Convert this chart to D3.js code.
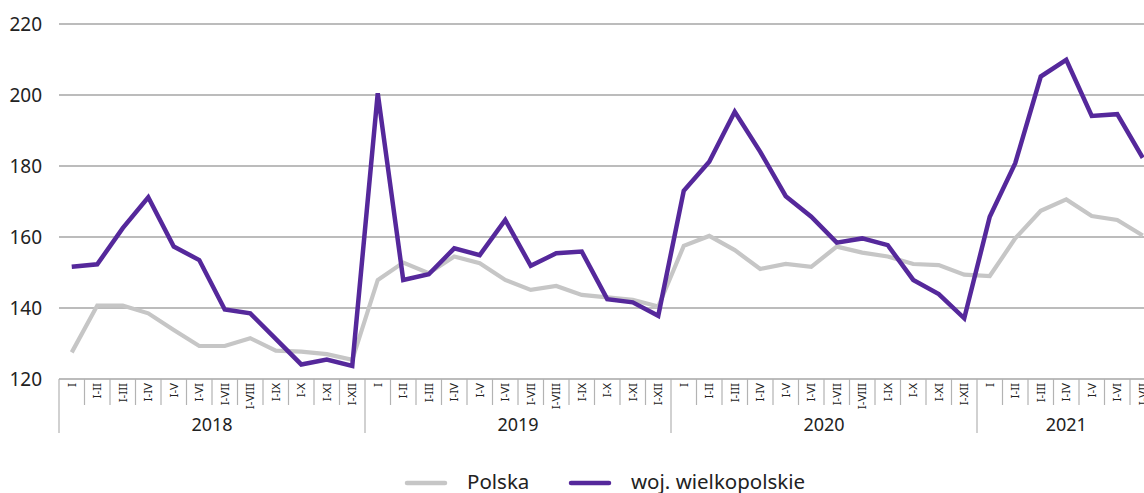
<!DOCTYPE html>
<html lang="pl">
<head>
    <meta charset="UTF-8">
    <title>Polska i woj. wielkopolskie</title>
    <script src="https://d3js.org/d3.v7.min.js"></script>
    <style>
        html, body {
            margin: 0;
            padding: 0;
            background: #fff;
            overflow: hidden;
        }
        body {
            font-family: "Noto Sans", "Open Sans", sans-serif;
            color: #222;
        }
        svg { display: block; overflow: hidden; }
    </style>
</head>
<body>
    <div id="chart"></div>

    <script>
        // dane
        const years = ['2018', '2019', '2020', '2021'];
        const monthsPerYear = [12, 12, 12, 7];
        const monthLabels = ['I', 'I-II', 'I-III', 'I-IV', 'I-V', 'I-VI', 'I-VII', 'I-VIII', 'I-IX', 'I-X', 'I-XI', 'I-XII'];
        const yTicks = [120, 140, 160, 180, 200, 220];

        const polska = [
            127.5, 140.7, 140.7, 138.5, 133.8, 129.3, 129.3, 131.5, 128.0, 127.7, 127.0, 125.4,
            147.9, 152.8, 149.8, 154.5, 152.6, 147.9, 145.1, 146.2, 143.7, 143.0, 142.3, 140.4,
            157.5, 160.3, 156.3, 151.0, 152.4, 151.6, 157.3, 155.6, 154.5, 152.4, 152.1, 149.4,
            149.0, 159.6, 167.4, 170.6, 165.9, 164.8, 160.4
        ];
        const wielkopolskie = [
            151.6, 152.3, 162.5, 171.2, 157.3, 153.5, 139.6, 138.5, 131.3, 124.1, 125.5, 123.7,
            200.5, 147.9, 149.5, 156.8, 154.9, 164.8, 151.9, 155.4, 155.9, 142.5, 141.6, 137.8,
            173.0, 181.2, 195.3, 184.0, 171.5, 165.7, 158.4, 159.6, 157.7, 147.9, 143.9, 137.1,
            165.7, 180.8, 205.2, 209.9, 194.1, 194.6, 182.3
        ];

        const seriesNames = ['Polska', 'woj. wielkopolskie'];
        const seriesColors = ['#c6c6c6', '#55289b'];

        // kategorie osi X
        const categories = [];
        years.forEach((y, yi) => {
            for (let m = 0; m < monthsPerYear[yi]; m++) {
                categories.push({ key: y + '-' + m, year: y, label: monthLabels[m] });
            }
        });

        const W = 1144, H = 493;
        const margin = { top: 24, left: 59, bottom: 114 };
        const bandW = 25.5;
        const plotW = bandW * categories.length;
        const plotH = H - margin.top - margin.bottom;

        const svg = d3.select('#chart').append('svg')
            .attr('width', W)
            .attr('height', H);

        const g = svg.append('g')
            .attr('transform', `translate(${margin.left},${margin.top})`);

        const x = d3.scaleBand()
            .domain(categories.map(d => d.key))
            .range([0, plotW]);

        const y = d3.scaleLinear()
            .domain([120, 220])
            .range([plotH, 0]);

        // siatka
        g.append('g')
            .selectAll('line')
            .data(yTicks)
            .join('line')
            .attr('x1', 0)
            .attr('x2', W)
            .attr('y1', d => y(d))
            .attr('y2', d => y(d))
            .attr('stroke', '#a6a6a6')
            .attr('stroke-width', 1.3);

        // etykiety osi Y
        g.append('g')
            .selectAll('text')
            .data(yTicks)
            .join('text')
            .attr('x', -17)
            .attr('y', d => y(d))
            .attr('dy', '0.35em')
            .attr('text-anchor', 'end')
            .attr('font-size', 19)
            .attr('fill', '#222')
            .text(d => d);

        // podziałki miesięcy
        const axisG = g.append('g').attr('transform', `translate(0,${plotH})`);

        const boundaries = categories.map((d, i) => ({
            x: x(d.key),
            yearStart: i === 0 || categories[i - 1].year !== d.year
        }));
        boundaries.push({ x: plotW, yearStart: true });

        axisG.selectAll('line.tick')
            .data(boundaries)
            .join('line')
            .attr('class', 'tick')
            .attr('x1', d => d.x)
            .attr('x2', d => d.x)
            .attr('y1', 0)
            .attr('y2', d => d.yearStart ? 54 : 26)
            .attr('stroke', '#b3b3b3')
            .attr('stroke-width', 1.2);

        axisG.selectAll('text.month')
            .data(categories)
            .join('text')
            .attr('class', 'month')
            .attr('transform', d => `translate(${x(d.key) + bandW / 2},4) rotate(-90)`)
            .attr('dy', '0.35em')
            .attr('text-anchor', 'end')
            .attr('font-size', 11.5)
            .attr('fill', '#222')
            .text(d => d.label);

        // etykiety lat
        let offset = 0;
        const yearPos = years.map((yr, i) => {
            const start = offset;
            offset += monthsPerYear[i];
            return { year: yr, cx: (start + monthsPerYear[i] / 2) * bandW };
        });

        axisG.selectAll('text.year')
            .data(yearPos)
            .join('text')
            .attr('class', 'year')
            .attr('x', d => d.cx)
            .attr('y', 52)
            .attr('text-anchor', 'middle')
            .attr('font-size', 18)
            .attr('fill', '#222')
            .text(d => d.year);

        // linie
        const line = d3.line()
            .x((d, i) => x(categories[i].key) + bandW / 2)
            .y(d => y(d));

        [polska, wielkopolskie].forEach((vals, si) => {
            g.append('path')
                .datum(vals)
                .attr('fill', 'none')
                .attr('stroke', seriesColors[si])
                .attr('stroke-width', si === 0 ? 4.2 : 4.5)
                .attr('stroke-linejoin', 'miter')
                .attr('d', line);
        });

        // legenda
        const legendItems = [
            { name: seriesNames[0], color: seriesColors[0], x: 405 },
            { name: seriesNames[1], color: seriesColors[1], x: 569 }
        ];
        const legend = svg.append('g');
        legendItems.forEach(item => {
            legend.append('line')
                .attr('x1', item.x + 2)
                .attr('x2', item.x + 40)
                .attr('y1', 483)
                .attr('y2', 483)
                .attr('stroke', item.color)
                .attr('stroke-width', 4.5)
                .attr('stroke-linecap', 'round');
            legend.append('text')
                .attr('x', item.x + 62)
                .attr('y', 482)
                .attr('dy', '0.35em')
                .attr('font-size', 20.5)
                .attr('fill', '#222')
                .text(item.name);
        });
    </script>
</body>
</html>
